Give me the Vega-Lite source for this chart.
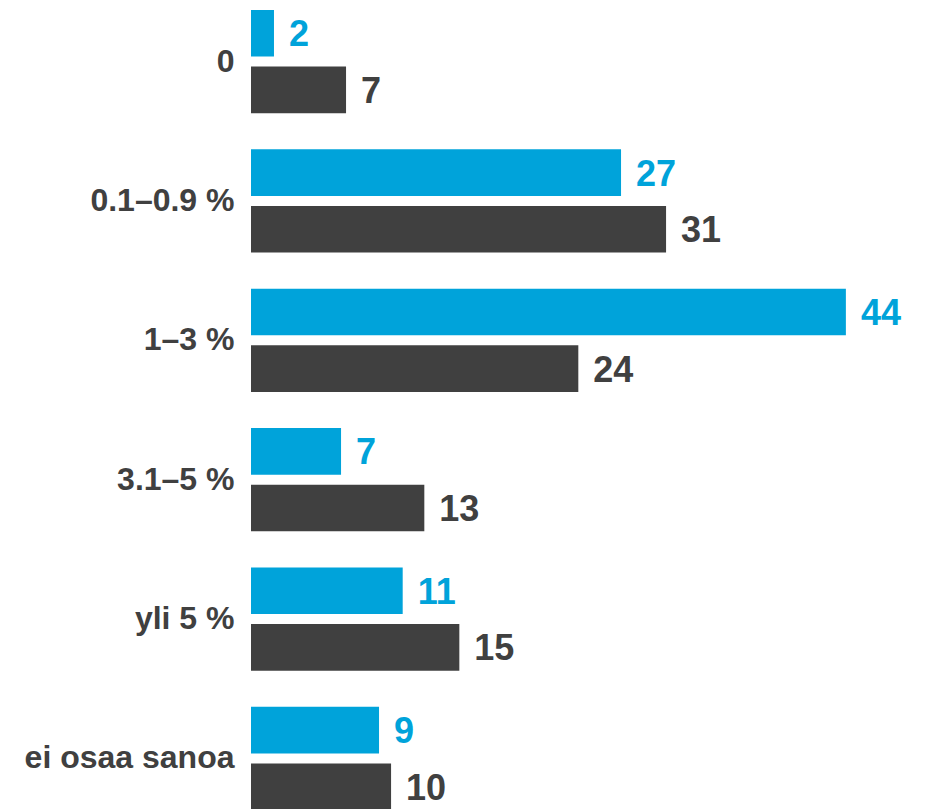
{
  "$schema": "https://vega.github.io/schema/vega-lite/v6.json",
  "autosize": {"type": "none"},
  "width": 676,
  "height": 800,
  "padding": {"left": 251, "top": 10, "right": 3, "bottom": 0},
  "background": "white",
  "config": {"view": {"stroke": null}, "font": "Liberation Sans"},
  "data": {
    "values": [
      {"luokka": "0", "sarja": "Sarja 1", "arvo": 1.7},
      {"luokka": "0", "sarja": "Sarja 2", "arvo": 7.03},
      {"luokka": "0.1–0.9 %", "sarja": "Sarja 1", "arvo": 27.37},
      {"luokka": "0.1–0.9 %", "sarja": "Sarja 2", "arvo": 30.7},
      {"luokka": "1–3 %", "sarja": "Sarja 1", "arvo": 44.0},
      {"luokka": "1–3 %", "sarja": "Sarja 2", "arvo": 24.21},
      {"luokka": "3.1–5 %", "sarja": "Sarja 1", "arvo": 6.66},
      {"luokka": "3.1–5 %", "sarja": "Sarja 2", "arvo": 12.82},
      {"luokka": "yli 5 %", "sarja": "Sarja 1", "arvo": 11.22},
      {"luokka": "yli 5 %", "sarja": "Sarja 2", "arvo": 15.41},
      {"luokka": "ei osaa sanoa", "sarja": "Sarja 1", "arvo": 9.47},
      {"luokka": "ei osaa sanoa", "sarja": "Sarja 2", "arvo": 10.36}
    ]
  },
  "encoding": {
    "y": {
      "field": "luokka", "type": "nominal", "sort": null,
      "scale": {"paddingInner": 0.26, "paddingOuter": 0},
      "axis": {"title": null, "domain": false, "ticks": false, "labelPadding": 17,
               "labelFontSize": 32, "labelFontWeight": "bold", "labelColor": "#404040",
               "labelFont": "Liberation Sans", "labelLimit": 0}
    },
    "yOffset": {
      "field": "sarja", "type": "nominal", "sort": ["Sarja 1", "Sarja 2"],
      "scale": {"paddingInner": 0.177, "paddingOuter": 0}
    },
    "x": {
      "field": "arvo", "type": "quantitative",
      "scale": {"domain": [0, 50], "nice": false},
      "axis": null
    },
    "color": {
      "field": "sarja", "type": "nominal",
      "scale": {"domain": ["Sarja 1", "Sarja 2"], "range": ["#00A3DA", "#404040"]},
      "legend": null
    }
  },
  "layer": [
    {"mark": {"type": "bar"}},
    {"mark": {"type": "text", "align": "left", "baseline": "middle", "dx": 15, "dy": 2,
              "fontSize": 36, "fontWeight": "bold", "font": "Liberation Sans"},
     "encoding": {"text": {"field": "arvo", "type": "quantitative", "format": ".0f"}}}
  ]
}
